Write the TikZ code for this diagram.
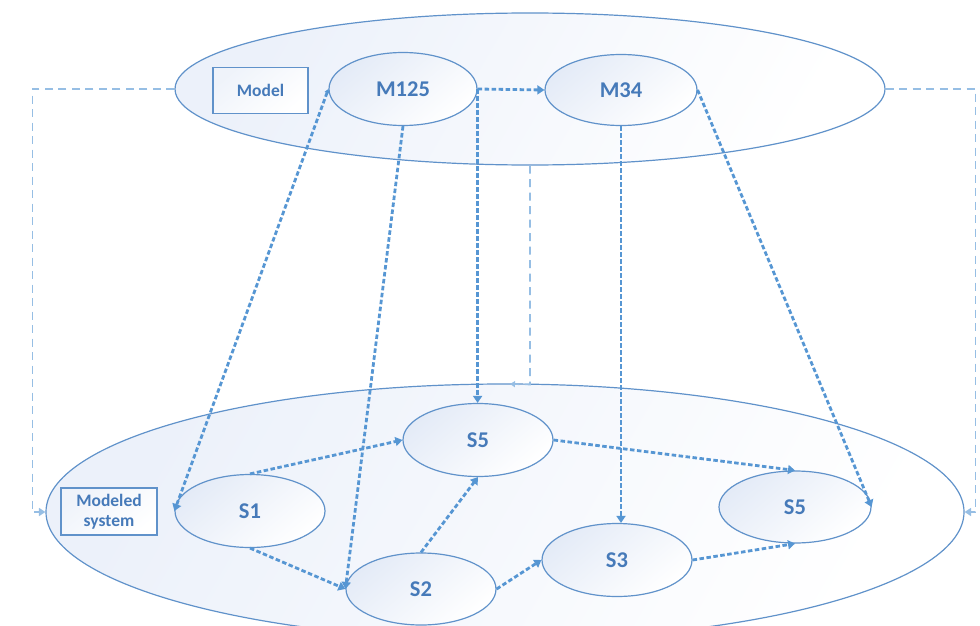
\documentclass[tikz,border=0pt]{standalone}
\usepackage{fontspec}
\setmainfont{Carlito}
\usetikzlibrary{shapes.geometric,arrows.meta,calc}
\definecolor{conn}{RGB}{86,150,211}
\definecolor{fb}{RGB}{150,190,228}
\definecolor{edgec}{RGB}{96,146,202}
\definecolor{txt}{RGB}{70,122,185}
\definecolor{fillc}{RGB}{228,235,247}
\definecolor{bigfill}{RGB}{236,241,250}
\begin{document}
\begin{tikzpicture}[x=1pt,y=-1pt,
  bigell/.style={ellipse, draw=edgec, line width=1.2pt, inner sep=0pt,
    top color=bigfill, bottom color=white, shading angle=60},
  stnode/.style={ellipse, draw=edgec, line width=1.2pt, inner sep=0pt,
    minimum width=150pt, minimum height=73pt,
    top color=fillc, bottom color=white, shading angle=40,
    text=txt, font=\fontsize{22.5}{26}\selectfont\bfseries},
  labbox/.style={rectangle, draw=edgec, line width=1.2pt, inner sep=0pt,
    top color=fillc!60, bottom color=white, shading angle=40,
    text=txt, font=\fontsize{17.5}{20}\selectfont\bfseries, align=center},
  conline/.style={draw=conn, line width=2.8pt, dash pattern=on 4.5pt off 2.5pt,
    -{Triangle[width=9pt,length=7pt]}},
  fbline/.style={draw=fb, line width=1.6pt, dash pattern=on 8pt off 5.5pt,
    -{Triangle[width=8pt,length=6.5pt]}}
]
\useasboundingbox (0,0) rectangle (980,626);
\clip (0,0) rectangle (980,626);
% big ellipses
\node[bigell, minimum width=710pt, minimum height=152pt] (top) at (530,89) {};
\node[bigell, minimum width=918pt, minimum height=256pt] (bot) at (505,512) {};
% label boxes
\node[labbox, minimum width=95pt, minimum height=46pt] (modelbox) at (260.5,90.5) {Model};
\node[labbox, minimum width=96pt, minimum height=47pt] (msbox) at (109,511.5) {Modeled\\system};
% model nodes
\node[stnode, minimum width=148pt] (m125) at (403,89) {M125};
\node[stnode, minimum width=152pt, minimum height=71pt] (m34) at (621,90) {M34};
% system nodes
\node[stnode] (s5a) at (478,440) {S5};
\node[stnode] (s1) at (250,511) {S1};
\node[stnode, minimum height=72pt] (s2) at (421,589) {S2};
\node[stnode] (s3) at (617,560) {S3};
\node[stnode, minimum width=152pt, minimum height=72pt] (s5b) at (795,507) {S5};
% feedback lines
\draw[fbline] (top.west) -- ++(-142,0) |- (bot.west);
\draw[fbline] (top.east) -- ++(90,0) |- (bot.east);
\coordinate (mid) at (530,384.5);
\draw[fbline, -{Triangle[width=6pt,length=5pt]}] (top.south) -- (mid) -- ++(-20,-0.5);
% model-to-system connectors
\draw[conline] (m125.east) -- (m34.west);
\draw[conline] (m125.east) -- (m125.east |- s5a.north);
\draw[conline] (m125.south) -- (s2.west);
\draw[conline, {Triangle[width=5pt,length=4pt]}-{Triangle[width=9pt,length=7pt]}] (m125.west) -- (s1.west);
\draw[conline] (m34.south) -- (m34.south |- s3.north);
\draw[conline] (m34.east) -- (s5b.east);
% system connectors
\draw[conline] (s1.north) -- (s5a.west);
\draw[conline] (s1.south) -- (s2.west);
\draw[conline] (s2.north) -- (s5a.south);
\draw[conline] (s2.east) -- (s3.west);
\draw[conline] (s5a.east) -- (s5b.north);
\draw[conline] (s3.east) -- (s5b.south);
\end{tikzpicture}
\end{document}
